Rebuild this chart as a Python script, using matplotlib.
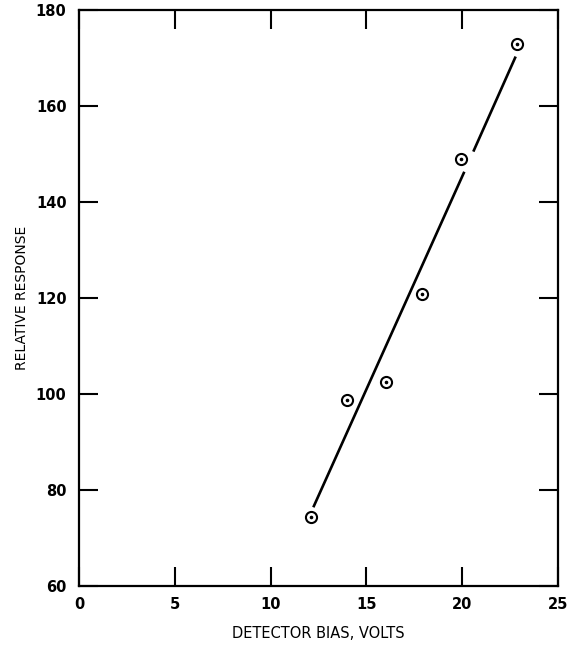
import matplotlib.pyplot as plt

# measured points
bias_volts = [12.1, 14.0, 16.0, 17.9, 19.95, 22.85]
response = [74.3, 98.7, 102.4, 120.8, 148.9, 172.9]

# fitted line, drawn in two pieces (gap around the 20 V point)
fit_x = [[12.23, 20.11], [20.58, 22.79]]
fit_y = [[76.4, 146.3], [150.5, 170.3]]

x_ticks = [0, 5, 10, 15, 20, 25]
y_ticks = [60, 80, 100, 120, 140, 160, 180]

plt.rcParams['font.family'] = ['Liberation Sans Narrow', 'DejaVu Sans']

fig = plt.figure(figsize=(5.76, 6.45), dpi=100)
ax = fig.add_axes([79 / 576, 1 - 586 / 645, (558 - 79) / 576, (586 - 10) / 645])

for xs, ys in zip(fit_x, fit_y):
    ax.plot(xs, ys, color='black', lw=1.9, solid_capstyle='butt', zorder=2)

ax.plot(bias_volts, response, 'o', ms=8, mfc='white', mec='black', mew=1.5, zorder=3)
ax.plot(bias_volts, response, 'o', ms=1.6, color='black', zorder=4)

ax.set_xlim(0, 25)
ax.set_ylim(60, 180)
ax.set_xticks(x_ticks)
ax.set_yticks(y_ticks)

ax.tick_params(direction='in', length=14, width=1.5, top=True, right=True,
               labelsize=10.5, pad=8)
ax.tick_params(axis='y', pad=9)
for lab in ax.get_xticklabels() + ax.get_yticklabels():
    lab.set_fontweight('bold')

for sp in ax.spines.values():
    sp.set_linewidth(1.6)

ax.set_xlabel('DETECTOR BIAS, VOLTS', fontsize=10.5, labelpad=10)
ax.set_ylabel('RELATIVE RESPONSE', fontsize=10, labelpad=5)

fig.savefig('out.png', dpi=100)
